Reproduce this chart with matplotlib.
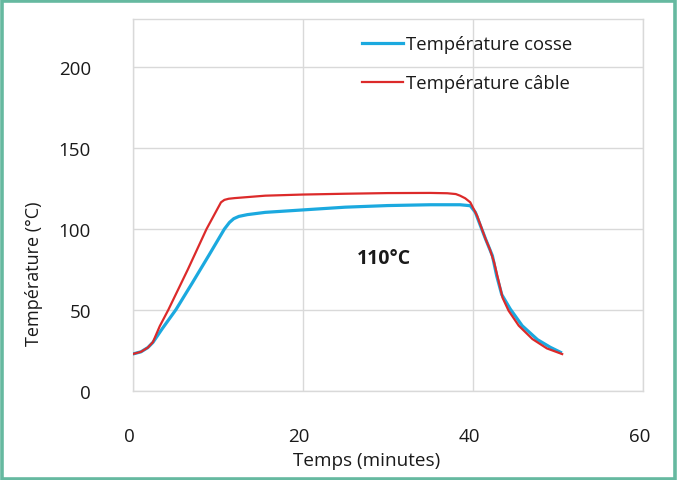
import matplotlib
matplotlib.use("Agg")
import matplotlib.pyplot as plt
from matplotlib.patches import Rectangle
from matplotlib.transforms import ScaledTranslation

# time (minutes) / temperature (degC)
t_cosse = [0, 1.0, 1.8, 2.4, 3.5, 5.1, 7.0, 9.0, 10.8, 11.4, 11.9, 12.5, 13.5, 15.6, 20, 25, 30, 35, 38.5,
           39.7, 40.3, 40.9, 41.5, 42.3, 42.8, 43.4, 44.4, 45.8, 47.6, 49.1, 50.3]
T_cosse = [22.8, 24.2, 26.8, 30.0, 38.5, 50.2, 66.5, 84, 100, 104.1, 106.4, 107.8, 108.9, 110.3, 111.8,
           113.5, 114.5, 115.0, 115.0, 114.4, 110.3, 102, 93.8, 83.5, 71.2, 59.5, 50.6, 40.3, 31.7,
           27.0, 23.9]
t_cable = [0, 1.0, 1.8, 2.4, 3.2, 4.2, 6.5, 8.7, 10.4, 10.8, 11.3, 12.0, 15.6, 20, 25, 30, 35, 37, 38.0,
           38.5, 39.1, 39.7, 40.5, 41.5, 42.0, 42.5, 43.0, 43.5, 44.2, 45.4, 47.0, 48.7, 50.5]
T_cable = [22.8, 24.2, 26.8, 30.2, 40, 50.0, 75, 100, 116.5, 118.0, 118.7, 119.1, 120.6, 121.3, 121.8,
           122.2, 122.3, 122.1, 121.6, 120.6, 119.0, 116.5, 108.2, 93.8, 87.5, 79.5, 68.5, 57.5, 49.6,
           40.3, 32.1, 26.3, 22.8]

GRID = "#d9d9d9"
INK = "#1a1a1a"

plt.rcParams["font.family"] = ["Open Sans", "DejaVu Sans"]

fig = plt.figure(figsize=(6.8, 4.81), dpi=100)
ax = fig.add_axes([132.5 / 680, 89 / 481, (643 - 132.5) / 680, (392 - 19.5) / 481])

ax.plot(t_cosse, T_cosse, color="#1ba9df", lw=2.3, label="Température cosse", zorder=3)
ax.plot(t_cable, T_cable, color="#dc2a2a", lw=1.6, label="Température câble", zorder=4)

ax.set_xlim(0, 60)
ax.set_ylim(0, 230)
ax.set_xticks([0, 20, 40, 60])
ax.set_yticks([0, 50, 100, 150, 200])
ax.grid(True, color=GRID, lw=1.0)
ax.set_axisbelow(True)
for s in ax.spines.values():
    s.set_color(GRID)
    s.set_linewidth(1.0)
ax.tick_params(length=0, labelsize=13.5, colors=INK)
ax.tick_params(axis="y", pad=30)
ax.tick_params(axis="x", pad=26)
shift = ScaledTranslation(-3.5 / 100, 0, fig.dpi_scale_trans)
for lab in ax.get_xticklabels():
    lab.set_transform(lab.get_transform() + shift)

# both axis titles sit off-centre in the original
ax.set_xlabel("Temps (minutes)", fontsize=13.6, color=INK, labelpad=4.5, x=0.458)
ax.set_ylabel("Température (°C)", fontsize=13, color=INK, labelpad=11, y=0.318)

ax.text(29.5, 82, "110°C", fontsize=14, fontweight="bold", ha="center", va="center", color=INK)

leg = ax.legend(loc="upper left", bbox_to_anchor=((362 - 132.5) / 510.5, 1 - 17 / 372.5),
                frameon=False, fontsize=13.3, handlelength=2.2, handletextpad=0.16,
                labelspacing=1.12, borderaxespad=0, borderpad=0)
for txt in leg.get_texts():
    txt.set_color(INK)

# green frame around the picture
fig.patches.append(Rectangle((1.5 / 680, 1.5 / 481), 673.5 / 680, 477.5 / 481,
                             transform=fig.transFigure, fill=False,
                             edgecolor="#66b9a0", lw=2.6))

fig.savefig("out.png", dpi=100)
